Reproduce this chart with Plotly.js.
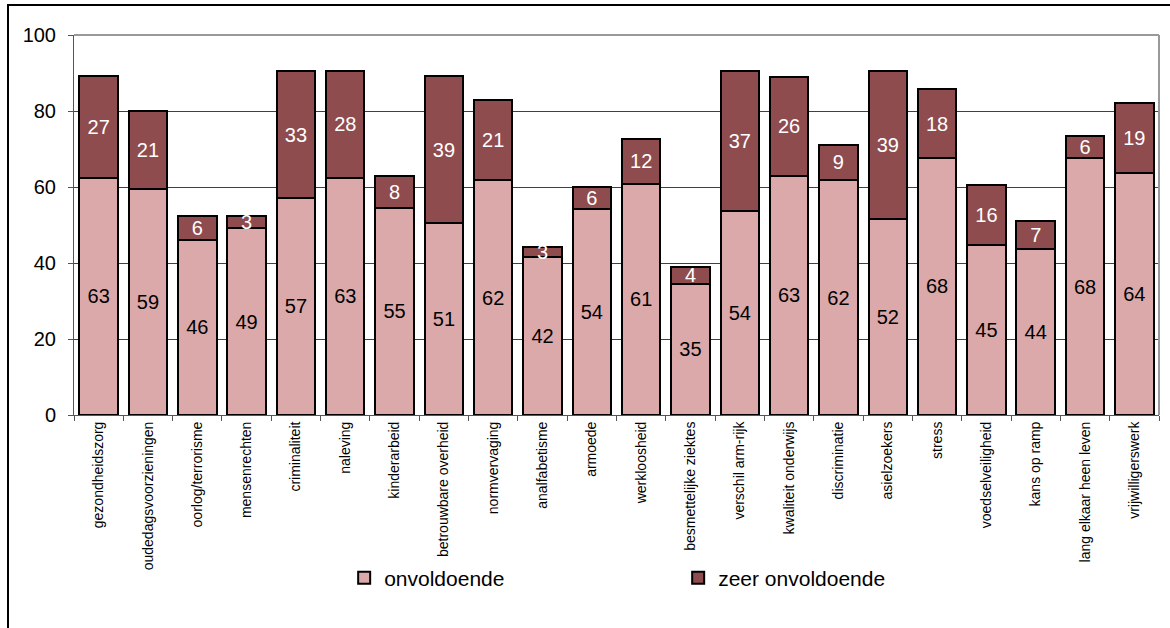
<!DOCTYPE html>
<html>
<head>
<meta charset="utf-8">
<script src="https://cdn.plot.ly/plotly-3.0.1.min.js"></script>
<style>
  html, body { margin: 0; padding: 0; background: #fff; overflow: hidden; }
  #frame { position: absolute; left: 7px; top: 4px; width: 1300px; height: 800px;
           border-top: 2px solid #000; border-left: 2px solid #000; pointer-events: none; }
  #chart { position: absolute; left: 0; top: 0; width: 1170px; height: 628px; }
</style>
</head>
<body>
<div id="chart"></div>
<div id="frame"></div>
<script>
const categories = [
  "gezondheidszorg", "oudedagsvoorzieningen", "oorlog/terrorisme", "mensenrechten",
  "criminaliteit", "naleving", "kinderarbeid", "betrouwbare overheid", "normvervaging",
  "analfabetisme", "armoede", "werkloosheid", "besmettelijke ziektes", "verschil arm-rijk",
  "kwaliteit onderwijs", "discriminatie", "asielzoekers", "stress", "voedselveiligheid",
  "kans op ramp", "lang elkaar heen leven", "vrijwilligerswerk"
];
const onvoldoende = [62.5, 59.4, 46.1, 49.1, 57.2, 62.5, 54.6, 50.6, 61.8, 41.5, 54.1,
  60.8, 34.6, 53.7, 62.9, 61.8, 51.6, 67.7, 44.7, 43.7, 67.6, 63.6];
const zeerOnvoldoende = [26.8, 20.7, 6.3, 3.3, 33.2, 28.0, 8.4, 38.5, 21.1, 2.7, 5.8,
  11.9, 4.4, 36.9, 26.1, 9.3, 38.8, 18.0, 15.9, 7.4, 5.7, 18.6];
const seriesNames = ["onvoldoende", "zeer onvoldoende"];
const yTicks = [0, 20, 40, 60, 80, 100];

const FONT = "Liberation Sans, Arial, sans-serif";
const common = {
  type: "bar",
  x: categories,
  texttemplate: "%{y:.0f}",
  textposition: "inside",
  insidetextanchor: "middle",
  constraintext: "none",
  textangle: 0,
  hoverinfo: "skip"
};
const traces = [
  Object.assign({}, common, {
    name: seriesNames[0], y: onvoldoende,
    marker: { color: "#DBA9A9", line: { color: "#000", width: 2 } },
    insidetextfont: { family: FONT, size: 20, color: "#000" }
  }),
  Object.assign({}, common, {
    name: seriesNames[1], y: zeerOnvoldoende,
    marker: { color: "#8E4C4E", line: { color: "#000", width: 2 } },
    insidetextfont: { family: FONT, size: 20, color: "#fff" }
  })
];

const layout = {
  width: 1170, height: 628,
  margin: { l: 74, r: 11, t: 35, b: 213 },
  paper_bgcolor: "#fff", plot_bgcolor: "#fff",
  barmode: "stack",
  bargap: 0.22,
  font: { family: FONT, color: "#000" },
  showlegend: true,
  legend: {
    orientation: "h", x: 0.249, xanchor: "left", y: -0.429, yanchor: "middle",
    traceorder: "normal",
    entrywidth: 289, entrywidthmode: "pixels",
    font: { family: FONT, size: 21, color: "#000" }
  },
  xaxis: {
    type: "category",
    tickangle: -90,
    tickfont: { family: FONT, size: 14, color: "#000" },
    ticks: "outside", ticklen: 5, tickcolor: "#555", tickson: "boundaries",
    showline: true, linecolor: "#555", linewidth: 1,
    showgrid: false, zeroline: false, fixedrange: true
  },
  yaxis: {
    range: [0, 100],
    tickvals: yTicks,
    ticktext: yTicks.map(String),
    tickfont: { family: FONT, size: 20, color: "#000" },
    ticks: "outside", ticklen: 5, tickcolor: "#555", ticklabelstandoff: 8,
    showline: true, linecolor: "#555", linewidth: 1,
    showgrid: true, gridcolor: "#404040", gridwidth: 1,
    zeroline: false, fixedrange: true
  },
  shapes: [
    { type: "line", xref: "paper", yref: "paper", x0: 0, x1: 1, y0: 1, y1: 1,
      line: { color: "#999", width: 2 } },
    { type: "line", xref: "paper", yref: "paper", x0: 1, x1: 1, y0: 0, y1: 1,
      line: { color: "#999", width: 2 } }
  ]
};

Plotly.newPlot("chart", traces, layout, { staticPlot: true, displayModeBar: false });
</script>
</body>
</html>
